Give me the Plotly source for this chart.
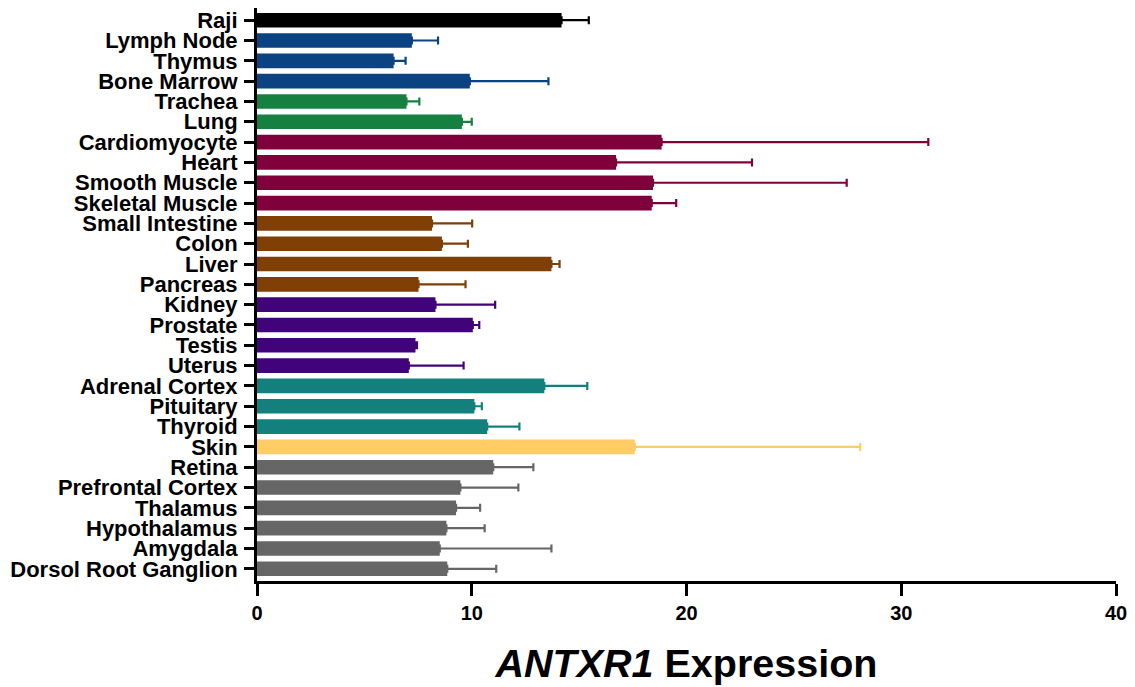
import plotly.graph_objects as go

tissues = ["Raji", "Lymph Node", "Thymus", "Bone Marrow", "Trachea", "Lung",
           "Cardiomyocyte", "Heart", "Smooth Muscle", "Skeletal Muscle",
           "Small Intestine", "Colon", "Liver", "Pancreas", "Kidney", "Prostate",
           "Testis", "Uterus", "Adrenal Cortex", "Pituitary", "Thyroid", "Skin",
           "Retina", "Prefrontal Cortex", "Thalamus", "Hypothalamus", "Amygdala",
           "Dorsol Root Ganglion"]
values = [14.18, 7.21, 6.36, 9.91, 6.96, 9.54,
          18.84, 16.72, 18.44, 18.38,
          8.15, 8.61, 13.71, 7.52, 8.31, 10.05,
          7.38, 7.07, 13.38, 10.12, 10.72, 17.59,
          11.0, 9.47, 9.27, 8.82, 8.51, 8.86]
err_top = [15.45, 8.43, 6.92, 13.57, 7.56, 10.0,
           31.26, 23.05, 27.46, 19.52,
           10.02, 9.82, 14.09, 9.71, 11.09, 10.35,
           7.45, 9.62, 15.38, 10.47, 12.22, 28.09,
           12.87, 12.17, 10.39, 10.6, 13.71, 11.14]
groups = ["raji", "immune", "immune", "immune", "resp", "resp",
          "muscle", "muscle", "muscle", "muscle",
          "gi", "gi", "gi", "gi", "uro", "uro", "uro", "uro",
          "endo", "endo", "endo", "skin",
          "neuro", "neuro", "neuro", "neuro", "neuro", "neuro"]
group_colors = {"raji": "#000000", "immune": "#0a4282", "resp": "#168040",
                "muscle": "#80003c", "gi": "#7f3f05", "uro": "#41037a",
                "endo": "#13807d", "skin": "#ffcc66", "neuro": "#666666"}
x_ticks = [0, 10, 20, 30, 40]

fig = go.Figure()
for t, v, e, g in zip(tissues, values, err_top, groups):
    c = group_colors[g]
    fig.add_trace(go.Bar(
        y=[t], x=[v], orientation="h", width=0.72,
        marker=dict(color=c, line=dict(width=0)),
        error_x=dict(type="data", symmetric=False, array=[e - v], arrayminus=[0],
                     color=c, thickness=2.2, width=4),
        showlegend=False,
    ))

font_fam = "Liberation Sans, Arial, sans-serif"
fig.update_layout(
    width=1135, height=687,
    margin=dict(l=257, r=12, t=8, b=105),
    plot_bgcolor="white", paper_bgcolor="white",
    barmode="overlay",
    font=dict(family=font_fam, color="black"),
)
fig.update_yaxes(
    categoryorder="array", categoryarray=tissues,
    tickmode="array", tickvals=tissues, ticktext=tissues,
    range=[27.6, -0.6],
    showline=True, linecolor="black", linewidth=3,
    ticks="outside", ticklen=10, tickwidth=3, tickcolor="black",
    tickfont=dict(size=22, family=font_fam, weight="bold", color="black"),
    showgrid=False, zeroline=False, ticklabelstandoff=2,
)
fig.update_xaxes(
    range=[0, 40], tickvals=x_ticks, ticktext=[str(v) for v in x_ticks],
    showline=True, linecolor="black", linewidth=3,
    ticks="outside", ticklen=12, tickwidth=3, tickcolor="black",
    tickfont=dict(size=20, family=font_fam, weight="bold", color="black"),
    showgrid=False, zeroline=False,
    title=dict(text="<i>ANTXR1</i> Expression",
               font=dict(size=39.5, family=font_fam, weight="bold", color="black"),
               standoff=27),
)
fig.write_html(
    "out.html",
    config={"displayModeBar": False},
    post_script="document.body.style.margin='0px';document.body.style.overflow='hidden';",
)
